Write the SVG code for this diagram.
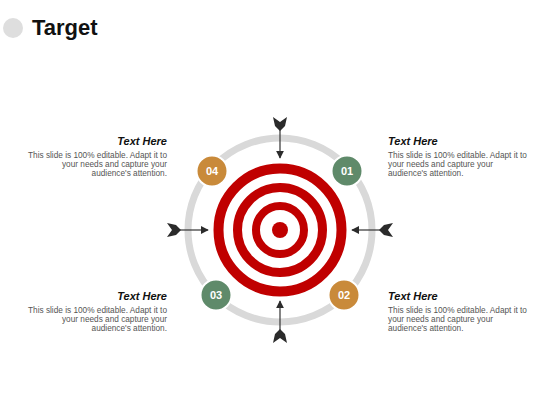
<svg xmlns="http://www.w3.org/2000/svg" width="560" height="420" viewBox="0 0 560 420">
<style>
.title{font-family:"Liberation Sans",Arial,sans-serif;font-weight:bold;font-size:22px;fill:#111}
.hd{font-family:"Liberation Sans",Arial,sans-serif;font-weight:bold;font-style:italic;font-size:11px;fill:#111}
.bd{font-family:"Liberation Sans",Arial,sans-serif;font-size:8.25px;fill:#555}
.num{font-family:"Liberation Sans",Arial,sans-serif;font-weight:bold;font-size:11px;fill:#fff;text-anchor:middle}
.ring{fill:none;stroke:#c00000}
.shaft{stroke:#333;stroke-width:1.2}
.fl{fill:#2b2b2b}
</style>
<defs>
<marker id="ah" viewBox="0 0 10 10" refX="9" refY="5" markerWidth="8" markerHeight="8" markerUnits="userSpaceOnUse" orient="auto">
<path d="M0,0 L10,5 L0,10 z" fill="#2b2b2b"/>
</marker>
<path id="fletch" d="M-7,-6 L0,-1 L7,-6 L5,3 L0,8 L-5,3 z"/>
</defs>
<rect width="560" height="420" fill="#fff"/>
<circle cx="13" cy="28" r="10" fill="#dedede"/>
<text class="title" x="32" y="35">Target</text>

<g id="track">
<circle cx="280" cy="230" r="92" fill="none" stroke="#d9d9d9" stroke-width="7"/>
</g>
<g id="target">
<circle class="ring" cx="280" cy="230" r="61.5" stroke-width="10"/>
<circle class="ring" cx="280" cy="230" r="42.5" stroke-width="9"/>
<circle class="ring" cx="280" cy="230" r="24" stroke-width="8"/>
<circle cx="280" cy="230" r="8" fill="#c00000"/>
</g>

<g id="connectors">
<line class="shaft" x1="280" y1="126" x2="280" y2="158" marker-end="url(#ah)"/>
<line class="shaft" x1="280" y1="334" x2="280" y2="301" marker-end="url(#ah)"/>
<line class="shaft" x1="176" y1="230" x2="208" y2="230" marker-end="url(#ah)"/>
<line class="shaft" x1="384" y1="230" x2="352" y2="230" marker-end="url(#ah)"/>
<use href="#fletch" class="fl" transform="translate(280,123)"/>
<use href="#fletch" class="fl" transform="translate(280,337) rotate(180)"/>
<use href="#fletch" class="fl" transform="translate(173,230) rotate(-90)"/>
<use href="#fletch" class="fl" transform="translate(387,230) rotate(90)"/>
</g>

<g id="b01"><circle cx="347" cy="171" r="15.5" fill="#5f8a6a" stroke="#fff" stroke-width="2"/><text class="num" x="347" y="175">01</text></g>
<g id="b02"><circle cx="344" cy="295" r="15.5" fill="#c98a3a" stroke="#fff" stroke-width="2"/><text class="num" x="344" y="299">02</text></g>
<g id="b03"><circle cx="216" cy="295" r="15.5" fill="#5f8a6a" stroke="#fff" stroke-width="2"/><text class="num" x="216" y="299">03</text></g>
<g id="b04"><circle cx="212" cy="171" r="15.5" fill="#c98a3a" stroke="#fff" stroke-width="2"/><text class="num" x="212" y="175">04</text></g>

<g id="t1">
<text class="hd" x="388" y="145">Text Here</text>
<text class="bd" x="388" y="158">This slide is 100% editable. Adapt it to</text>
<text class="bd" x="388" y="167">your needs and capture your</text>
<text class="bd" x="388" y="176">audience's attention.</text>
</g>
<g id="t2">
<text class="hd" x="388" y="300">Text Here</text>
<text class="bd" x="388" y="313">This slide is 100% editable. Adapt it to</text>
<text class="bd" x="388" y="322">your needs and capture your</text>
<text class="bd" x="388" y="331">audience's attention.</text>
</g>
<g id="t3" text-anchor="end">
<text class="hd" x="167" y="300">Text Here</text>
<text class="bd" x="167" y="313">This slide is 100% editable. Adapt it to</text>
<text class="bd" x="167" y="322">your needs and capture your</text>
<text class="bd" x="167" y="331">audience's attention.</text>
</g>
<g id="t4" text-anchor="end">
<text class="hd" x="167" y="145">Text Here</text>
<text class="bd" x="167" y="158">This slide is 100% editable. Adapt it to</text>
<text class="bd" x="167" y="167">your needs and capture your</text>
<text class="bd" x="167" y="176">audience's attention.</text>
</g>
</svg>
